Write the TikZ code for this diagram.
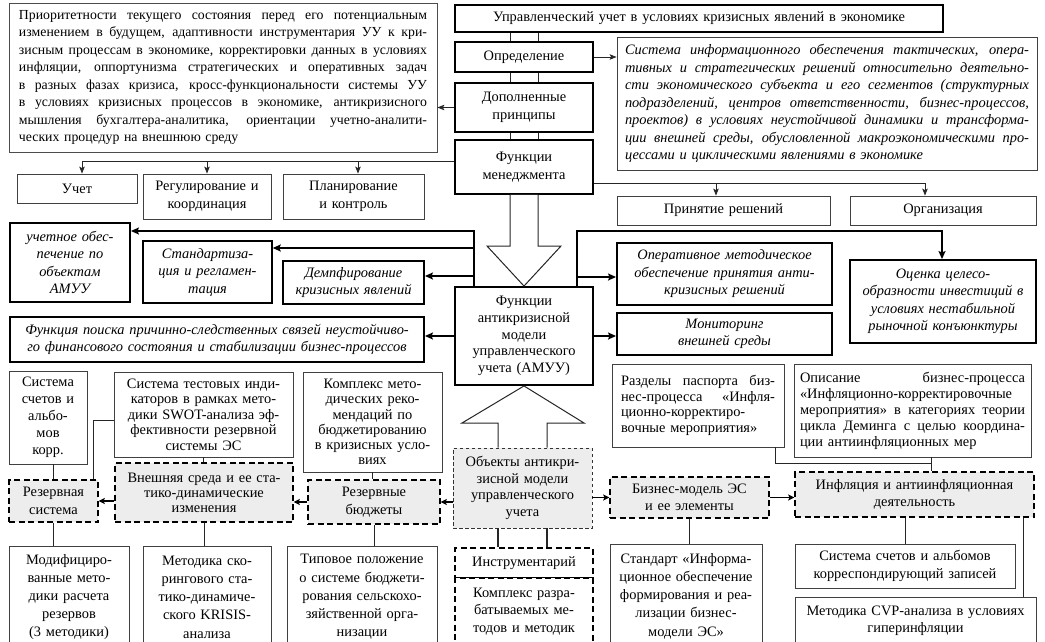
\documentclass[tikz,border=0pt]{standalone}
\usepackage{fontspec}
\setmainfont{Liberation Serif}
\usetikzlibrary{arrows.meta}

\newdimen\jwd
\newcommand\jline[1]{\hbox to \jwd{\spaceskip=\fontdimen2\font plus 1fil minus \fontdimen4\font\xspaceskip=\spaceskip\relax #1}}
\newcommand\lline[1]{\hbox to \jwd{#1\hfil}}
\newcommand\fz[1]{\fontsize{14.4}{#1}\selectfont}

\newcommand\mybox[7]{%
  \pgfmathsetmacro\bxw{#5-#3}%
  \pgfmathsetmacro\bxh{#6-#4}%
  \pgfmathsetmacro\bxt{#5-#3-8}%
  \node[minimum width=\bxw pt, minimum height=\bxh pt, text width=\bxt pt, #2] (#1) at ({(#3+#5)/2},{(#4+#6)/2}) {#7};}

\tikzset{
  bx/.style={draw=black!75, line width=0.8pt, inner sep=0pt, align=center, font=\fz{17.5}, fill=white},
  bmed/.style={bx, draw=black, line width=1.2pt},
  bthk/.style={bx, draw=black, line width=1.9pt},
  it/.style={font=\fz{17.5}\itshape},
  dsh/.style={bx, draw=black, line width=1.4pt, dash pattern=on 6pt off 3.5pt, fill=black!7},
  dshf/.style={bx, draw=black!80, line width=0.9pt, dash pattern=on 3.5pt off 2.5pt, fill=black!7},
  dsho/.style={bx, draw=black, line width=1.2pt, dash pattern=on 6pt off 3.5pt},
  ln/.style={draw=black!85, line width=0.9pt},
  arr/.style={ln, -{Stealth[length=7pt,width=5.5pt,inset=1.5pt]}},
  tln/.style={draw=black, line width=1.8pt},
  tarr/.style={tln, -{Stealth[length=8pt,width=7pt,inset=1.5pt]}},
  sarr/.style={tln, -{Stealth[length=6pt,width=6pt,inset=1pt]}},
  hollow/.style={draw=black!85, line width=1pt, fill=white, line join=miter},
}

\begin{document}
\begin{tikzpicture}[x=1pt,y=-1pt]
\useasboundingbox (0,0) rectangle (1045,641);
\fill[white] (0,0) rectangle (1045,641);
\clip (0,0) rectangle (1045,641);

% ---------- top ----------
\mybox{T1}{bx,draw=black!70,text width=408pt,font=\fontsize{13.8}{17.5}\selectfont}{9}{3}{437}{152}{\jwd=408pt\relax\vbox{%
\jline{Приоритетности текущего состояния перед его потенциальным}%
\jline{изменением в будущем, адаптивности инструментария УУ к кри-}%
\jline{зисным процессам в экономике, корректировки данных в условиях}%
\jline{инфляции, оппортунизма стратегических и оперативных задач}%
\jline{в разных фазах кризиса, кросс-функциональности системы УУ}%
\jline{в условиях кризисных процессов в экономике, антикризисного}%
\jline{мышления бухгалтера-аналитика, ориентации учетно-аналити-}%
\lline{ческих процедур на внешнюю среду}}}
\mybox{title}{bmed}{455}{5}{943}{32}{Управленческий учет в условиях кризисных явлений в экономике}
\mybox{opr}{bmed}{455}{42}{593}{72}{Определение}
\mybox{dop}{bmed}{455}{83}{593}{132}{Дополненные\\принципы}
\mybox{fm}{bmed,line width=1.5pt}{455}{140}{593}{194}{Функции\\менеджмента}
\mybox{def}{bx,it,text width=404pt}{617}{37}{1037}{170}{\jwd=404pt\relax\vbox{%
\jline{Система информационного обеспечения тактических, опера-}%
\jline{тивных и стратегических решений относительно деятельно-}%
\jline{сти экономического субъекта и его сегментов (структурных}%
\jline{подразделений, центров ответственности, бизнес-процессов,}%
\jline{проектов) в условиях неустойчивой динамики и трансформа-}%
\jline{ции внешней среды, обусловленной макроэкономическими про-}%
\lline{цессами и циклическими явлениями в экономике}}}

\mybox{uchet}{bx}{17}{174}{137}{203}{Учет}
\mybox{reg}{bx}{143}{174}{271}{219}{Регулирование и\\координация}
\mybox{plan}{bx}{283}{174}{424}{219}{Планирование\\и контроль}
\mybox{prin}{bx}{617}{196}{830}{225}{Принятие решений}
\mybox{org}{bx}{850}{196}{1036}{225}{Организация}

% ---------- middle ----------
\mybox{uo}{bthk,it}{10}{223}{130}{302}{учетное обес-\\печение по\\объектам\\АМУУ}
\mybox{st}{bmed,line width=1.5pt,it}{143}{241}{272}{303}{Стандартиза-\\ция и регламен-\\тация}
\mybox{dem}{bthk,it}{283}{261}{424}{304}{Демпфирование\\кризисных явлений}
\mybox{fp}{bthk,it}{10}{317}{424}{362}{Функция поиска причинно-следственных связей неустойчиво-\\го финансового состояния и стабилизации бизнес-процессов}
\mybox{amuu}{bthk,font=\fz{16.6}}{455}{287}{593}{385}{Функции\\антикризисной\\модели\\управленческого\\учета (АМУУ)}
\mybox{oper}{bthk,it}{617}{243}{832}{305}{Оперативное методическое\\обеспечение принятия анти-\\кризисных решений}
\mybox{mon}{bthk,it}{617}{313}{832}{355}{Мониторинг\\внешней среды}
\mybox{ots}{bthk,it}{850}{260}{1036}{343}{Оценка целесо-\\образности инвестиций в\\условиях нестабильной\\рыночной конъюнктуры}

% ---------- row 3 ----------
\mybox{ss1}{bx,font=\fz{17}}{9}{371}{87}{464}{Система\\счетов и\\альбо-\\мов\\корр.}
\mybox{stest}{bx,font=\fz{15.5}}{114}{372}{293}{457}{Система тестовых инди-\\каторов в рамках мето-\\дики SWOT-анализа эф-\\фективности резервной\\системы ЭС}
\mybox{kompl}{bx,font=\fz{15.2}}{303}{372}{442}{472}{Комплекс мето-\\дических реко-\\мендаций по\\бюджетированию\\в кризисных усло-\\виях}
\mybox{razd}{bx,font=\fz{15.6},text width=154pt}{612}{364}{784}{447}{\jwd=154pt\relax\vbox{%
\jline{Разделы паспорта биз-}%
\jline{нес-процесса «Инфля-}%
\lline{ционно-корректиро-}%
\lline{вочные мероприятия»}}}
\mybox{opis}{bx,font=\fz{16},text width=225pt}{794}{364}{1031}{457}{\jwd=225pt\relax\vbox{%
\jline{Описание бизнес-процесса}%
\jline{«Инфляционно-корректировочные}%
\jline{мероприятия» в категориях теории}%
\jline{цикла Деминга с целью координа-}%
\lline{ции антиинфляционных мер}}}

% ---------- row 4 ----------
\mybox{rezs}{dsh}{9}{480}{98}{522}{Резервная\\система}
\mybox{vnesh}{dsh,font=\fz{15}}{115}{463}{293}{522}{Внешняя среда и ее ста-\\тико-динамические\\изменения}
\mybox{rezb}{dsh}{308}{480}{440}{524}{Резервные\\бюджеты}
\mybox{obj}{dshf,font=\fz{16.7}}{453}{448}{592}{528}{Объекты антикри-\\зисной модели\\управленческого\\учета}
\mybox{biz}{dsh}{610}{477}{769}{518}{Бизнес-модель ЭС\\и ее элементы}
\mybox{infl}{dsh}{795}{472}{1034}{517}{Инфляция и антиинфляционная\\деятельность}

% ---------- row 5 ----------
\mybox{mod}{bx,font=\fz{18.2}}{9}{546}{129}{648}{Модифициро-\\ванные мето-\\дики расчета\\резервов\\(3 методики)}
\mybox{met}{bx,font=\fz{18.2}}{143}{546}{271}{648}{Методика ско-\\рингового ста-\\тико-динамиче-\\ского KRISIS-\\анализа}
\mybox{tip}{bx,font=\fz{18.2}}{287}{546}{437}{648}{Типовое положение\\о системе бюджети-\\рования сельскохо-\\зяйственной орга-\\низации}
\mybox{instr}{dsho}{455}{548}{593}{578}{Инструментарий}
\mybox{kompl2}{dsho,font=\fz{17.5}}{455}{578}{593}{645}{Комплекс разра-\\батываемых ме-\\тодов и методик}
\mybox{stand}{bx,font=\fz{18.2}}{610}{544}{762}{648}{Стандарт «Информа-\\ционное обеспечение\\формирования и реа-\\лизации бизнес-\\модели ЭС»}
\mybox{sch}{bx}{795}{544}{1015}{588}{Система счетов и альбомов\\корреспондирующий записей}
\mybox{cvp}{bx}{795}{597}{1036}{645}{Методика CVP-анализа в условиях\\гиперинфляции}

% ---------- connectors: top ----------
\foreach \s in {-14,14} {
  \draw[ln] ([xshift=\s pt]opr.north) -- ([xshift=\s pt]opr.north |- title.south);
  \draw[ln] ([xshift=\s pt]dop.north) -- ([xshift=\s pt]opr.south);
  \draw[ln] ([xshift=\s pt]fm.north) -- ([xshift=\s pt]dop.south);
}
\draw[arr] (opr.east) -- (opr.east -| def.west);
\draw[arr] (dop.west) -- (dop.west -| T1.east);

\coordinate (fL) at (82,161);
\coordinate (fP) at (358,161);
\draw[ln] (fm.west |- fL) -- (fL);
\draw[arr] (fL) -- (fL |- uchet.north);
\draw[arr] (fL -| reg.north) -- (reg.north);
\draw[arr] (fP) -- (fP |- plan.north);

\coordinate (r1) at (716,183);
\coordinate (r2) at (925,183);
\draw[ln] (fm.east |- r1) -- (r2);
\draw[arr] (r1) -- (r1 |- prin.north);
\draw[arr] (r2) -- (r2 |- org.north);

% hollow arrow down
\coordinate (hd1) at (510,246);
\coordinate (hd2) at (538,246);
\draw[hollow] (hd1 |- fm.south) -- (hd1) -- (487,246) -- (amuu.north) -- (561,246) -- (hd2) -- (hd2 |- fm.south);

% left feeds
\coordinate (L0) at (474,231);
\coordinate (L1) at (474,248);
\coordinate (L2) at (474,276);
\draw[tarr] (L0 |- amuu.north) -- (L0) -- (L0 -| uo.east);
\draw[tarr] (L1) -- (L1 -| st.east);
\draw[tarr] (L2) -- (L2 -| dem.east);
\draw[tarr] (amuu.west) -- (amuu.west -| fp.east);

% right feeds
\coordinate (R0) at (577,231);
\coordinate (R0b) at (942,231);
\coordinate (R1) at (577,277);
\draw[tarr] (R0 |- amuu.north) -- (R0) -- (R0b) -- (R0b |- ots.north);
\draw[tarr] (R1) -- (R1 -| oper.west);
\draw[tarr] (amuu.east) -- (amuu.east -| mon.west);

% hollow arrow up
\coordinate (hu1) at (498,423);
\coordinate (hu2) at (547,423);
\draw[hollow] (hu1 |- obj.north) -- (hu1) -- (462,423) -- (amuu.south) -- (584,423) -- (hu2) -- (hu2 |- obj.north);

% objects connections
\draw[ln, line width=1.2pt] (hu1 |- obj.south) -- (hu1 |- instr.north);
\draw[ln, line width=1.2pt] (hu2 |- obj.south) -- (hu2 |- instr.north);
\draw[sarr] (obj.west |- rezb.east) -- (rezb.east);
\draw[sarr] (rezb.west) -- (rezb.west -| vnesh.east);
\draw[sarr] (vnesh.west |- rezs.east) -- (rezs.east);
\draw[sarr] (obj.east |- biz.west) -- (biz.west);
\draw[sarr] (biz.east) -- (biz.east -| infl.west);

% row 3 / row 5 connections
\draw[ln] (rezs.north) -- (rezs.north |- ss1.south);
\coordinate (c1) at (93,420);
\draw[ln] (c1 |- rezs.north) -- (c1) -- (c1 -| stest.west);
\draw[ln] (stest.south) -- (stest.south |- vnesh.north);
\draw[ln] (kompl.south) -- (kompl.south |- rezb.north);
\draw[ln] (rezs.south) -- (rezs.south |- mod.north);
\draw[ln] (vnesh.south) -- (vnesh.south |- met.north);
\draw[ln] (rezb.south) -- (rezb.south |- tip.north);
\coordinate (c2) at (931,463);
\coordinate (c2a) at (775,463);
\draw[ln] (c2a |- razd.south) -- (c2a) -- (c2);
\draw[ln] (c2 |- opis.south) -- (c2 |- infl.north);
\draw[ln] (biz.south) -- (biz.south |- stand.north);
\draw[ln] (infl.south -| sch.north) -- (sch.north);
\coordinate (c3) at (1023,0);
\draw[ln] (c3 |- infl.south) -- (c3 |- cvp.north);
\end{tikzpicture}
\end{document}
